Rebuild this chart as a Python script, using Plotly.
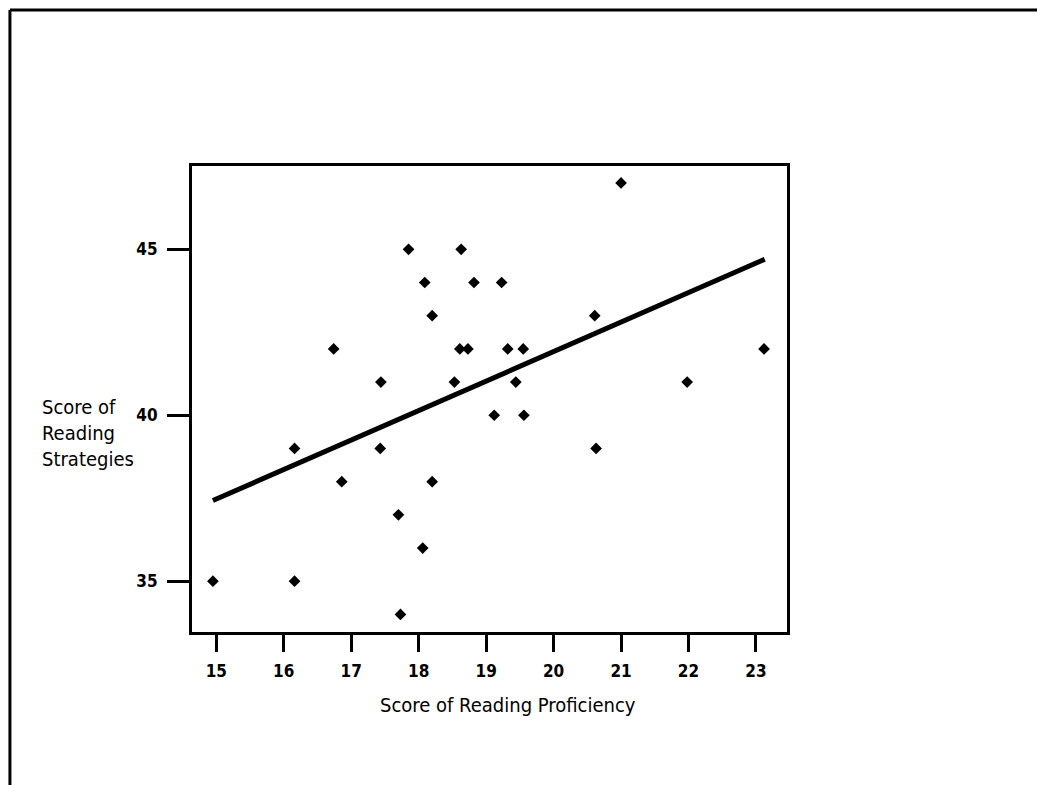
import plotly.graph_objects as go

# Data
proficiency = [17.85, 18.63, 18.09, 18.82, 19.23, 18.20, 20.61, 16.74, 18.61, 18.73,
               19.32, 19.55, 23.12, 17.44, 18.53, 19.44, 21.98, 19.12, 19.56, 16.16,
               17.43, 20.63, 16.86, 18.20, 17.70, 18.06, 14.95, 16.16, 17.73, 21.00]
strategies = [45, 45, 44, 44, 44, 43, 43, 42, 42, 42,
              42, 42, 42, 41, 41, 41, 41, 40, 40, 39,
              39, 39, 38, 38, 37, 36, 35, 35, 34, 47]

fit_x = [14.95, 23.13]
fit_y = [37.43, 44.70]

x_ticks = [15, 16, 17, 18, 19, 20, 21, 22, 23]
y_ticks = [35, 40, 45]

FONT = "Liberation Sans Narrow, DejaVu Sans Condensed, Arial Narrow, Arial, sans-serif"

fig = go.Figure()
fig.add_trace(go.Scatter(
    x=fit_x, y=fit_y, mode="lines",
    line=dict(color="black", width=5),
    showlegend=False, hoverinfo="skip"))
fig.add_trace(go.Scatter(
    x=proficiency, y=strategies, mode="markers",
    marker=dict(symbol="diamond", size=9, color="black"),
    showlegend=False))

fig.update_layout(
    width=1037, height=777,
    margin=dict(l=184, r=258, t=158, b=153, autoexpand=False),
    paper_bgcolor="white", plot_bgcolor="white",
    font=dict(family=FONT, color="black"),
    xaxis=dict(range=[14.64, 23.46], tickvals=x_ticks,
               showgrid=False, zeroline=False,
               showline=True, mirror=True, linecolor="black", linewidth=3,
               ticks="outside", ticklen=17, tickwidth=3, tickcolor="black",
               ticklabelstandoff=5,
               tickfont=dict(size=17, family=FONT, weight="bold")),
    yaxis=dict(range=[33.47, 47.51], tickvals=y_ticks,
               showgrid=False, zeroline=False,
               showline=True, mirror=True, linecolor="black", linewidth=3,
               ticks="outside", ticklen=22, tickwidth=3, tickcolor="black",
               ticklabelstandoff=6,
               tickfont=dict(size=17, family=FONT, weight="bold")),
    annotations=[
        dict(text="Score of Reading Proficiency", xref="paper", yref="paper",
             x=0.531, y=-0.157, xanchor="center", yanchor="middle",
             showarrow=False, font=dict(size=20, family=FONT)),
        dict(text="Score of<br>Reading<br>Strategies", xref="paper", yref="paper",
             x=-0.255, y=0.427, xanchor="left", yanchor="middle", align="left",
             showarrow=False, font=dict(size=20, family=FONT)),
    ],
    shapes=[
        dict(type="line", xref="paper", yref="paper", x0=-0.306, x1=1.44,
             y0=1.335, y1=1.335, line=dict(color="black", width=3)),
        dict(type="line", xref="paper", yref="paper", x0=-0.306, x1=-0.306,
             y0=1.335, y1=-0.33, line=dict(color="black", width=3)),
        dict(type="line", xref="paper", yref="paper", x0=1.428, x1=1.428,
             y0=0.02, y1=-0.33, line=dict(color="#b0b0b0", width=2)),
    ],
)

fig.write_html("out.html")
